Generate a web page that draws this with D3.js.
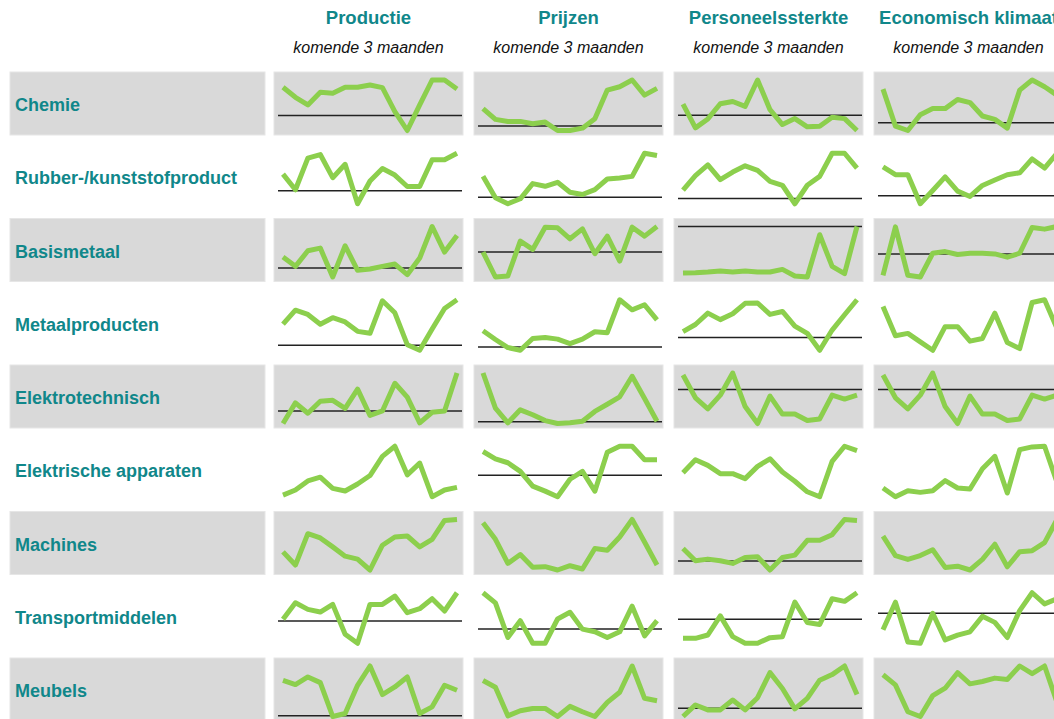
<!DOCTYPE html>
<html><head><meta charset="utf-8">
<script src="https://cdn.jsdelivr.net/npm/d3@7"></script>
<style>html,body{margin:0;padding:0;background:#fff;overflow:hidden}</style>
</head><body><svg id="c" width="1054" height="719"></svg>
<script>
const sectors = ["Chemie","Rubber-/kunststofproduct","Basismetaal","Metaalproducten","Elektrotechnisch","Elektrische apparaten","Machines","Transportmiddelen","Meubels"];
const indicators = ["Productie","Prijzen","Personeelssterkte","Economisch klimaat"];
const subtitle = "komende 3 maanden";

const productie = [
  [85,55,32,70,67,85,85,92,84,12,-45,32,107,107,80],
  [51,3,100,111,40,81,-40,30,68,48,13,13,95,95,115],
  [33,5,52,60,-27,67,-7,-3,5,12,-20,30,125,48,98],
  [65,108,95,65,85,72,43,37,137,100,2,-15,50,113,140],
  [-39,25,-7,30,33,8,68,-14,0,86,43,-37,-4,0,118],
  [30,45,72,83,50,42,63,88,145,175,90,125,25,45,53],
  [90,50,145,132,105,77,68,35,110,135,138,105,128,185,188],
  [5,55,35,27,50,-40,-67,50,50,75,25,37,67,30,85],
  [107,94,117,100,-2,7,92,150,64,87,117,7,27,92,77]
];
const prijzen = [
  [52,20,14,14,7,12,-13,-13,-6,22,107,117,137,92,112],
  [63,-2,-20,-5,41,33,45,15,8,23,55,58,63,133,126],
  [0,-75,-72,33,8,75,73,40,70,-5,48,-27,75,48,77],
  [48,22,-2,-10,25,28,23,10,23,45,42,140,110,125,80],
  [150,42,-3,37,22,4,-5,-3,2,32,54,77,140,72,2],
  [72,50,38,12,-33,-48,-65,-12,12,-48,70,88,88,47,47],
  [178,128,55,82,43,45,35,48,38,100,95,135,188,120,50],
  [108,78,-25,25,-42,-42,30,50,0,-8,-25,-8,68,-20,25],
  [125,105,20,35,42,42,18,48,32,18,60,90,168,72,65]
];
const personeelssterkte = [
  [34,-38,-11,35,42,27,107,17,-28,-10,-35,-33,-6,-10,-46],
  [25,69,102,57,80,99,85,52,40,-16,40,67,137,137,92],
  [-141,-140,-138,-135,-138,-135,-138,-138,-130,-150,-153,-25,-121,-143,0],
  [18,40,75,55,73,105,106,71,80,35,13,-39,23,70,116],
  [45,-25,-59,-17,51,-52,-104,-20,-75,-75,-95,-90,-17,-29,-17],
  [98,137,120,95,95,80,117,140,100,72,40,25,132,178,165],
  [38,1,6,1,-7,11,13,-27,11,18,63,63,80,126,123],
  [-58,-58,-48,10,-53,-73,-73,-56,-53,52,-10,-16,62,54,80],
  [-25,10,-5,-5,25,-5,32,108,60,-2,30,85,102,128,42]
];
const economischKlimaat = [
  [100,-10,-23,24,42,42,69,60,20,10,-16,97,127,107,82],
  [92,67,67,-25,17,60,15,-2,33,50,67,73,117,88,135],
  [-65,82,-65,-70,2,7,-2,2,2,0,-10,2,80,75,83],
  [155,68,75,50,25,95,95,52,60,135,48,30,167,175,90],
  [45,-25,-59,-17,51,-52,-104,-20,-75,-75,-95,-90,-17,-29,-17],
  [53,27,45,40,45,75,53,50,110,147,38,167,175,177,70],
  [140,80,68,80,98,43,47,35,68,115,45,92,95,120,192],
  [-49,33,-85,-89,0,-79,-65,-55,-9,-27,-72,8,61,28,43],
  [142,112,32,18,80,102,148,115,122,132,128,168,145,168,60]
];
const seriesByIndicator = [productie, prijzen, personeelssterkte, economischKlimaat];

const teal = "#10878a", green = "#8ccf4d", gray = "#d9d9d9";
const svg = d3.select("#c");

const rowBand = d3.scaleBand().domain(sectors).range([72, 721]).paddingInner(10.25/73.25).paddingOuter(0);
const colBand = d3.scaleBand().domain(indicators).range([274, 1063]).paddingInner(11/200).paddingOuter(0);

// headers
const hdr = svg.append("g");
indicators.forEach(ind => {
  const cx = colBand(ind) + colBand.bandwidth()/2;
  hdr.append("text").attr("x", cx).attr("y", 24).attr("text-anchor","middle")
    .attr("font-family","Liberation Sans, Arial, sans-serif").attr("font-weight","bold")
    .attr("font-size",18.5).attr("fill",teal).text(ind);
  hdr.append("text").attr("x", cx).attr("y", 53).attr("text-anchor","middle")
    .attr("font-family","Liberation Sans, Arial, sans-serif").attr("font-style","italic")
    .attr("font-size",16).attr("fill","#111").text(subtitle);
});

sectors.forEach((sec, r) => {
  const y0 = rowBand(sec), h = rowBand.bandwidth();
  const shaded = r % 2 === 0;
  const g = svg.append("g");
  if (shaded) g.append("rect").attr("x",10).attr("y",y0).attr("width",255).attr("height",h)
    .attr("fill",gray).attr("stroke","#e6e6e6").attr("stroke-width",1);
  g.append("text").attr("x",15).attr("y",y0+39)
    .attr("font-family","Liberation Sans, Arial, sans-serif").attr("font-weight","bold")
    .attr("font-size",18).attr("fill",teal).text(sec);

  indicators.forEach((ind, c) => {
    const x0 = colBand(ind), w = colBand.bandwidth();
    const vals = seriesByIndicator[c][r];
    if (shaded) g.append("rect").attr("x",x0).attr("y",y0).attr("width",w).attr("height",h)
      .attr("fill",gray).attr("stroke","#e6e6e6").attr("stroke-width",1);
    const xs = d3.scaleLinear().domain([0, vals.length-1]).range([x0+9, x0+183]);
    const ys = d3.scaleLinear().domain(d3.extent(vals)).range([y0+h-4.5, y0+8]);
    const dom = ys.domain();
    if (dom[0] <= 0 && dom[1] >= 0) {
      g.append("line").attr("x1",x0+4).attr("x2",x0+188)
        .attr("y1",ys(0)).attr("y2",ys(0)).attr("stroke","#222").attr("stroke-width",1.5);
    }
    const line = d3.line().x((d,i)=>xs(i)).y(d=>ys(d));
    g.append("path").datum(vals).attr("d",line).attr("fill","none")
      .attr("stroke",green).attr("stroke-width",5).attr("stroke-linejoin","round").attr("stroke-linecap","butt");
  });
});
</script>
</body></html>
